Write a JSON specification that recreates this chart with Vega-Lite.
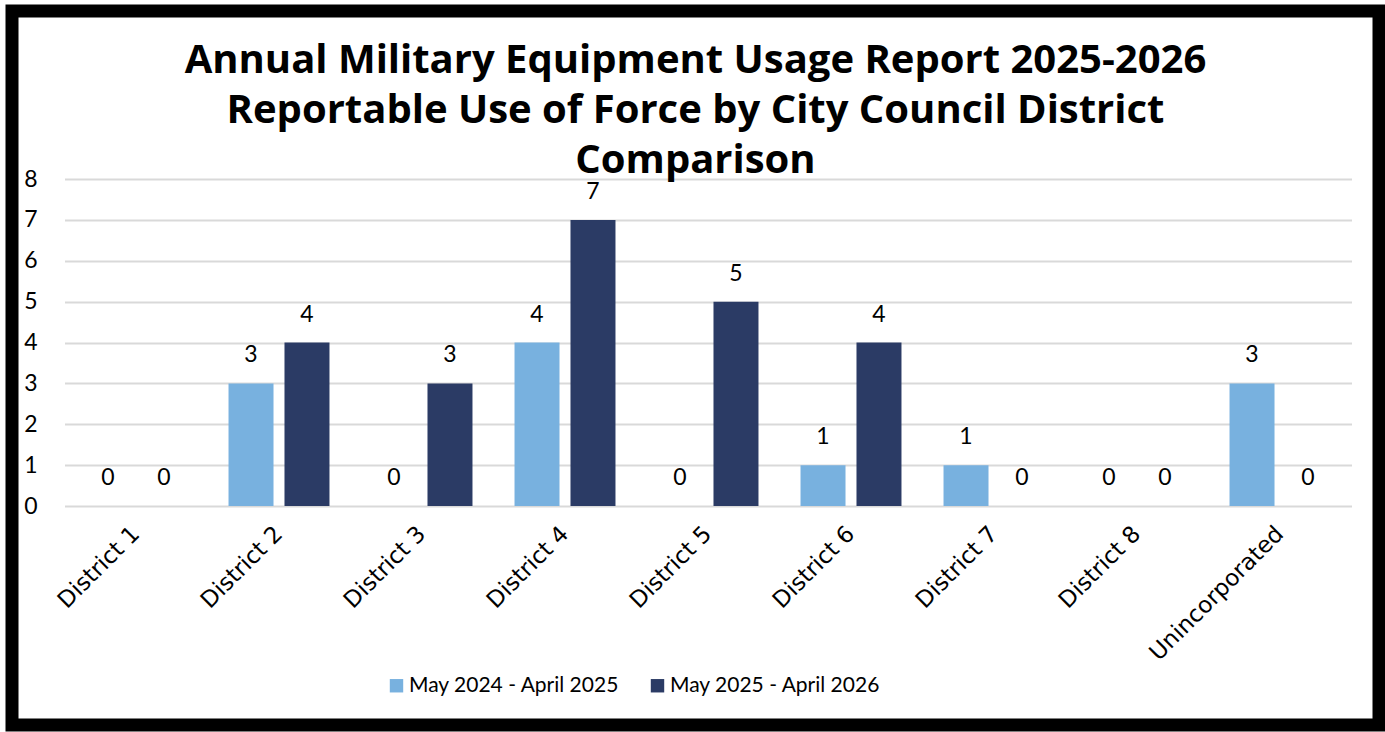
{
  "$schema": "https://vega.github.io/schema/vega-lite/v6.json",
  "width": 1367,
  "height": 714,
  "autosize": "none",
  "padding": {"left": 12, "top": 11, "right": 6, "bottom": 7},
  "background": "white",
  "config": {
    "view": {"stroke": "black", "strokeWidth": 13, "fill": "white"}
  },
  "title": {
    "text": ["Annual Military Equipment Usage Report 2025-2026", "Reportable Use of Force by City Council District", "Comparison"],
    "font": "Open Sans",
    "fontWeight": "bold",
    "fontSize": 40,
    "lineHeight": 50,
    "color": "black",
    "anchor": "middle",
    "frame": "group",
    "orient": "top",
    "offset": -170
  },
  "data": {
    "values": [
      {"district": "District 1", "period": "May 2024 - April 2025", "count": 0},
      {"district": "District 1", "period": "May 2025 - April 2026", "count": 0},
      {"district": "District 2", "period": "May 2024 - April 2025", "count": 3},
      {"district": "District 2", "period": "May 2025 - April 2026", "count": 4},
      {"district": "District 3", "period": "May 2024 - April 2025", "count": 0},
      {"district": "District 3", "period": "May 2025 - April 2026", "count": 3},
      {"district": "District 4", "period": "May 2024 - April 2025", "count": 4},
      {"district": "District 4", "period": "May 2025 - April 2026", "count": 7},
      {"district": "District 5", "period": "May 2024 - April 2025", "count": 0},
      {"district": "District 5", "period": "May 2025 - April 2026", "count": 5},
      {"district": "District 6", "period": "May 2024 - April 2025", "count": 1},
      {"district": "District 6", "period": "May 2025 - April 2026", "count": 4},
      {"district": "District 7", "period": "May 2024 - April 2025", "count": 1},
      {"district": "District 7", "period": "May 2025 - April 2026", "count": 0},
      {"district": "District 8", "period": "May 2024 - April 2025", "count": 0},
      {"district": "District 8", "period": "May 2025 - April 2026", "count": 0},
      {"district": "Unincorporated", "period": "May 2024 - April 2025", "count": 3},
      {"district": "Unincorporated", "period": "May 2025 - April 2026", "count": 0}
    ]
  },
  "encoding": {
    "x": {
      "field": "district",
      "type": "nominal",
      "sort": null,
      "title": null,
      "scale": {"range": [52.5, 1339.5], "paddingInner": 0.294, "paddingOuter": 0.147},
      "axis": {
        "orient": "bottom",
        "offset": -219,
        "domain": false,
        "ticks": false,
        "labelAngle": -45,
        "labelAlign": "right",
        "labelBaseline": "middle",
        "labelPadding": 24,
        "labelFont": "DejaVu Sans",
        "labelFontSize": 23,
        "labelLimit": 400,
        "labelColor": "black",
        "grid": false
      }
    },
    "xOffset": {
      "field": "period",
      "type": "nominal",
      "scale": {"paddingInner": 0.196, "paddingOuter": 0}
    },
    "y": {
      "field": "count",
      "type": "quantitative",
      "title": null,
      "scale": {"domain": [0, 8], "range": [495, 168], "nice": false},
      "axis": {
        "orient": "left",
        "offset": -28,
        "values": [0, 1, 2, 3, 4, 5, 6, 7, 8],
        "domain": false,
        "ticks": false,
        "grid": true,
        "gridColor": "#D9D9D9",
        "gridWidth": 2,
        "labelPadding": 3,
        "labelFont": "Lato",
        "labelFontSize": 23,
        "labelColor": "black"
      }
    }
  },
  "layer": [
    {
      "mark": {"type": "bar"},
      "encoding": {
        "color": {
          "field": "period",
          "type": "nominal",
          "scale": {"domain": ["May 2024 - April 2025", "May 2025 - April 2026"], "range": ["#78B1DF", "#2B3B65"]},
          "legend": {
            "title": null,
            "orient": "none",
            "direction": "horizontal",
            "legendX": 374,
            "legendY": 664,
            "symbolType": "square",
            "symbolSize": 180,
            "symbolStrokeWidth": 0,
            "labelFont": "Lato",
            "labelFontSize": 21,
            "labelLimit": 400,
            "labelColor": "black",
            "labelOffset": 2,
            "columnPadding": 27,
            "padding": 0
          }
        }
      }
    },
    {
      "mark": {"type": "text", "font": "Lato", "fontSize": 23, "color": "black", "baseline": "alphabetic", "dy": -21},
      "encoding": {
        "text": {"field": "count", "type": "quantitative"}
      }
    }
  ]
}
